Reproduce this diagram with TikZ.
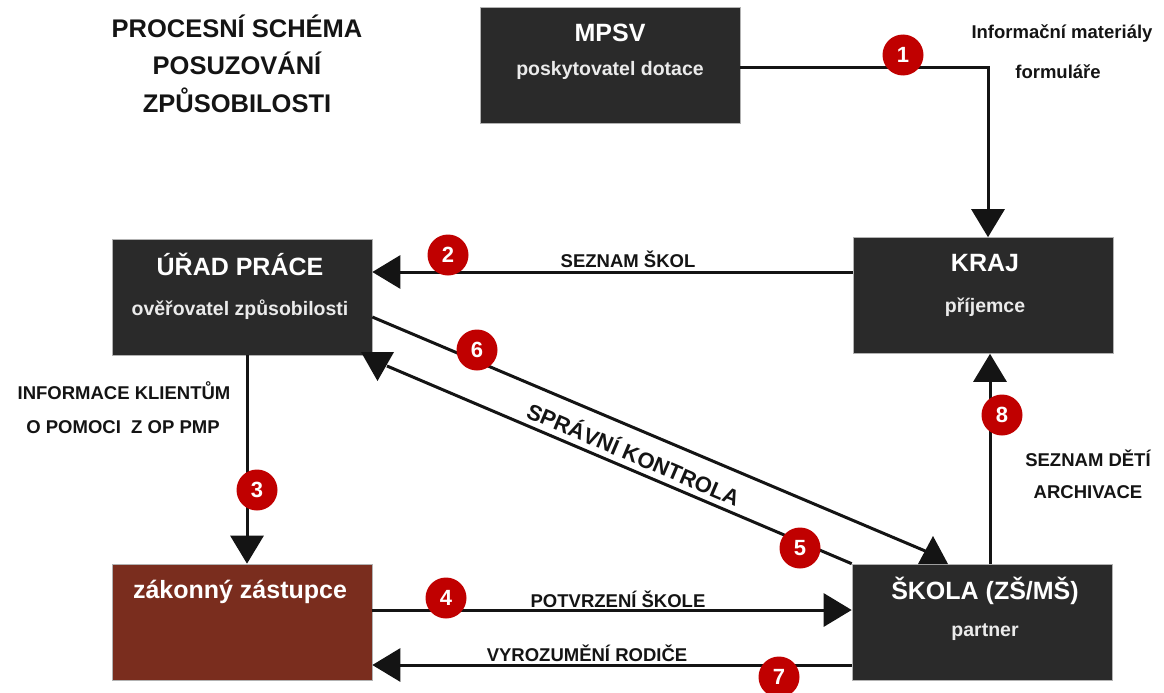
\documentclass[tikz,border=0pt]{standalone}
\usepackage{fontspec}
\setmainfont{Liberation Sans}
\usetikzlibrary{arrows.meta,calc}
\definecolor{boxgray}{RGB}{42,42,42}
\definecolor{boxbrown}{RGB}{122,45,30}
\definecolor{numred}{RGB}{192,0,0}
\definecolor{txtblack}{RGB}{20,20,20}
\tikzset{
  box/.style={draw=gray!60,line width=0.6pt,fill=boxgray,minimum width=260pt,minimum height=116pt,inner sep=0pt},
  brownbox/.style={box,fill=boxbrown},
  boxtitle/.style={text=white,font=\fontsize{25}{30}\selectfont\bfseries,inner sep=0pt},
  boxsub/.style={text=white!92!black,font=\fontsize{19.5}{24}\selectfont\bfseries,inner sep=0pt},
  lbl/.style={text=txtblack,font=\fontsize{18.5}{22}\selectfont\bfseries,inner sep=0pt},
  ttl/.style={text=txtblack,font=\fontsize{25.5}{30}\selectfont\bfseries,inner sep=0pt},
  num/.style={circle,fill=numred,minimum size=41pt,inner sep=0pt,text=white,font=\fontsize{22}{24}\selectfont\bfseries},
  conn/.style={draw=txtblack,line width=3pt},
  arr/.style={conn,-{Triangle[length=28pt,width=33pt]}},
  tri/.style={fill=txtblack,draw=none}
}
\begin{document}
\begin{tikzpicture}[x=1pt,y=-1pt]
\useasboundingbox (0,0) rectangle (1164,693);
% title
\node[ttl] (t1) at (237,26) {PROCESNÍ SCHÉMA};
\node[ttl] (t2) at (237,63) {POSUZOVÁNÍ};
\node[ttl] (t3) at (237,100) {ZPŮSOBILOSTI};
% boxes
\node[box] (mpsv) at (610,65.5) {};
\node[boxtitle] (mpsvt) at (610,33) {MPSV};
\node[boxsub] (mpsvs) at (610,70) {poskytovatel dotace};
\node[box] (kraj) at (983,295.5) {};
\node[boxtitle] (krajt) at (985,263) {KRAJ};
\node[boxsub] (krajs) at (985,307) {příjemce};
\node[box] (urad) at (242,297) {};
\node[boxtitle] (uradt) at (240,264) {ÚŘAD PRÁCE};
\node[boxsub] (urads) at (240,310) {ověřovatel způsobilosti};
\node[brownbox] (zak) at (242,622) {};
\node[boxtitle] (zakt) at (240,592) {zákonný zástupce};
\node[box] (skola) at (982,622) {};
\node[boxtitle] (skolat) at (985,591) {ŠKOLA (ZŠ/MŠ)};
\node[boxsub] (skolas) at (985,632) {partner};
% connectors
\draw[arr] (mpsv.east |- 0,68) -| (kraj.north -| 988,0);
\draw[arr] (kraj.west |- 0,272) -- (urad.east |- 0,272);
\draw[arr] (urad.south -| 247,0) -- (zak.north -| 247,0);
\draw[arr] (zak.east |- 0,610) -- (skola.west |- 0,610);
\draw[arr] (skola.west |- 0,665) -- (zak.east |- 0,665);
\draw[arr] (skola.north -| 990,0) -- (kraj.south -| 990,0);
% diagonal pair (6 and 5)
\coordinate (d6end) at (930,553);
\coordinate (d5end) at (387,366);
\draw[conn] (urad.east |- 0,317) -- (d6end);
\draw[conn] (skola.north west) -- (d5end);
\fill[tri] (918,564) -- (948,564) -- (933,536) -- cycle;
\fill[tri] (361,352) -- (394,352) -- (377.5,381) -- cycle;
\node[lbl,font=\fontsize{22}{26}\selectfont\bfseries,rotate=-23] (sk) at (634,453) {SPRÁVNÍ KONTROLA};
% labels
\node[lbl] (l1a) at (1062,34) {Informační materiály};
\node[lbl] (l1b) at (1058,72) {formuláře};
\node[lbl] (l2) at (628,259) {SEZNAM ŠKOL};
\node[lbl] (l3a) at (124,391) {INFORMACE KLIENTŮM};
\node[lbl] (l3b) at (123,427) {O POMOCI \ Z OP PMP};
\node[lbl] (l4) at (618,599) {POTVRZENÍ ŠKOLE};
\node[lbl] (l7) at (587,653) {VYROZUMĚNÍ RODIČE};
\node[lbl] (l8a) at (1088,458) {SEZNAM DĚTÍ};
\node[lbl] (l8b) at (1088,492) {ARCHIVACE};
% numbers
\node[num] (n1) at (903,55) {1};
\node[num] (n2) at (448,255) {2};
\node[num] (n3) at (257,490) {3};
\node[num] (n4) at (446,598) {4};
\node[num] (n5) at (800,548) {5};
\node[num] (n6) at (477,350) {6};
\node[num] (n7) at (779,677) {7};
\node[num] (n8) at (1002,415) {8};
\end{tikzpicture}
\end{document}
